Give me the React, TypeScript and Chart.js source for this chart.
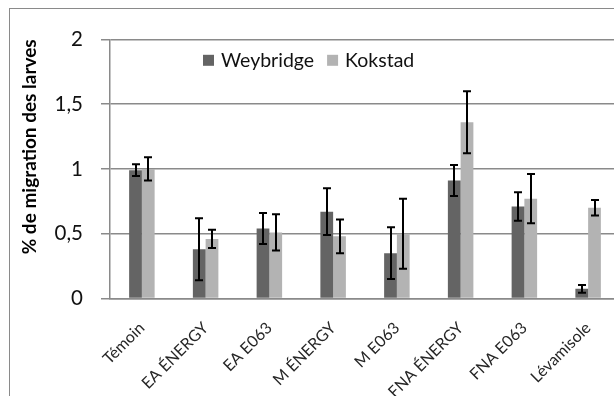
import React, { useEffect, useRef } from "react";
import { Chart, registerables } from "chart.js";

Chart.register(...registerables);

const categories = ["Témoin", "EA ÉNERGY", "EA E063", "M ÉNERGY", "M E063", "FNA ÉNERGY", "FNA E063", "Lévamisole"];
const seriesNames = ["Weybridge", "Kokstad"];
const weybridgeValues = [0.99, 0.38, 0.54, 0.67, 0.35, 0.91, 0.71, 0.075];
const weybridgeErrors = [0.045, 0.24, 0.12, 0.18, 0.2, 0.12, 0.11, 0.03];
const kokstadValues = [1.0, 0.46, 0.51, 0.48, 0.5, 1.36, 0.77, 0.7];
const kokstadErrors = [0.09, 0.07, 0.14, 0.13, 0.27, 0.24, 0.19, 0.06];
const yTicks = [0, 0.5, 1, 1.5, 2];
const yTitle = "% de migration des larves";

const seriesColors = ["#646464", "#b3b3b3"];
const FONT = "Lato, 'Open Sans', sans-serif";

const errorBarPlugin = {
  id: "errorBars",
  afterDatasetsDraw(chart: any) {
    const ctx = chart.ctx;
    const ys = chart.scales.y;
    ctx.save();
    ctx.strokeStyle = "#000";
    ctx.lineWidth = 2;
    chart.data.datasets.forEach((ds: any, i: number) => {
      const meta = chart.getDatasetMeta(i);
      meta.data.forEach((bar: any, j: number) => {
        const v = ds.data[j];
        const e = ds.errors[j];
        const x = Math.round(bar.x);
        const yt = ys.getPixelForValue(v + e);
        const yb = ys.getPixelForValue(v - e);
        ctx.beginPath();
        ctx.moveTo(x, yt);
        ctx.lineTo(x, yb);
        ctx.moveTo(x - 4, yt);
        ctx.lineTo(x + 4, yt);
        ctx.moveTo(x - 4, yb);
        ctx.lineTo(x + 4, yb);
        ctx.stroke();
      });
    });
    ctx.restore();
  },
};

const innerLegendPlugin = {
  id: "innerLegend",
  afterDraw(chart: any) {
    const ctx = chart.ctx;
    const area = chart.chartArea;
    ctx.save();
    ctx.font = `19.5px ${FONT}`;
    ctx.textBaseline = "middle";
    ctx.textAlign = "left";
    let x = area.left + 93;
    const cy = area.top + 21;
    chart.data.datasets.forEach((ds: any) => {
      ctx.fillStyle = ds.backgroundColor;
      ctx.fillRect(x, cy - 5.5, 11, 11);
      ctx.fillStyle = "#111";
      ctx.fillText(ds.label, x + 18, cy);
      x += 18 + ctx.measureText(ds.label).width + 13;
    });
    ctx.restore();
  },
};

function BarChart() {
  const ref = useRef<HTMLCanvasElement | null>(null);
  useEffect(() => {
    if (!ref.current) return;
    const chart = new Chart(ref.current, {
      type: "bar",
      data: {
        labels: categories,
        datasets: [
          { label: seriesNames[0], data: weybridgeValues, errors: weybridgeErrors, backgroundColor: seriesColors[0] } as any,
          { label: seriesNames[1], data: kokstadValues, errors: kokstadErrors, backgroundColor: seriesColors[1] } as any,
        ],
      },
      options: {
        animation: false,
        responsive: true,
        maintainAspectRatio: false,
        datasets: { bar: { barPercentage: 1, categoryPercentage: 0.4 } },
        layout: { padding: { top: 15.7, right: 30, left: 0, bottom: 0 } },
        plugins: { legend: { display: false }, tooltip: { enabled: false } },
        scales: {
          x: {
            grid: { display: false },
            border: { display: true, color: "#8a8a8a", width: 1.5 },
            ticks: {
              minRotation: 45,
              maxRotation: 45,
              autoSkip: false,
              padding: 12,
              color: "#262626",
              font: { family: FONT, size: 16 },
            },
            afterFit: (s: any) => {
              s.height = 97.5;
            },
          },
          y: {
            min: 0,
            max: 2,
            afterBuildTicks: (s: any) => {
              s.ticks = yTicks.map((v) => ({ value: v }));
            },
            afterFit: (s: any) => {
              s.width = 100;
            },
            grid: { color: "#8a8a8a", lineWidth: 1.5, drawTicks: true, tickLength: 9 },
            border: { display: true, color: "#8a8a8a", width: 1.5 },
            ticks: {
              padding: 18,
              color: "#111",
              font: { family: FONT, size: 20.5 },
              callback: (v: any) => String(v).replace(".", ","),
            },
            title: {
              display: true,
              text: yTitle,
              align: "end",
              color: "#000",
              padding: { top: 8, bottom: 0 },
              font: { family: FONT, size: 19, weight: "bold" },
            },
          },
        },
      } as any,
      plugins: [errorBarPlugin, innerLegendPlugin],
    });
    return () => chart.destroy();
  }, []);

  return (
    <div
      style={{
        position: "absolute",
        left: 9,
        top: 8,
        width: 605,
        height: 388,
        overflow: "hidden",
        borderLeft: "1px solid #8a8a8a",
        borderTop: "1px solid #8a8a8a",
        background: "#fff",
      }}
    >
      <div style={{ position: "relative", width: 640, height: 387 }}>
        <canvas ref={ref} />
      </div>
    </div>
  );
}

export default function App() {
  return <BarChart />;
}
